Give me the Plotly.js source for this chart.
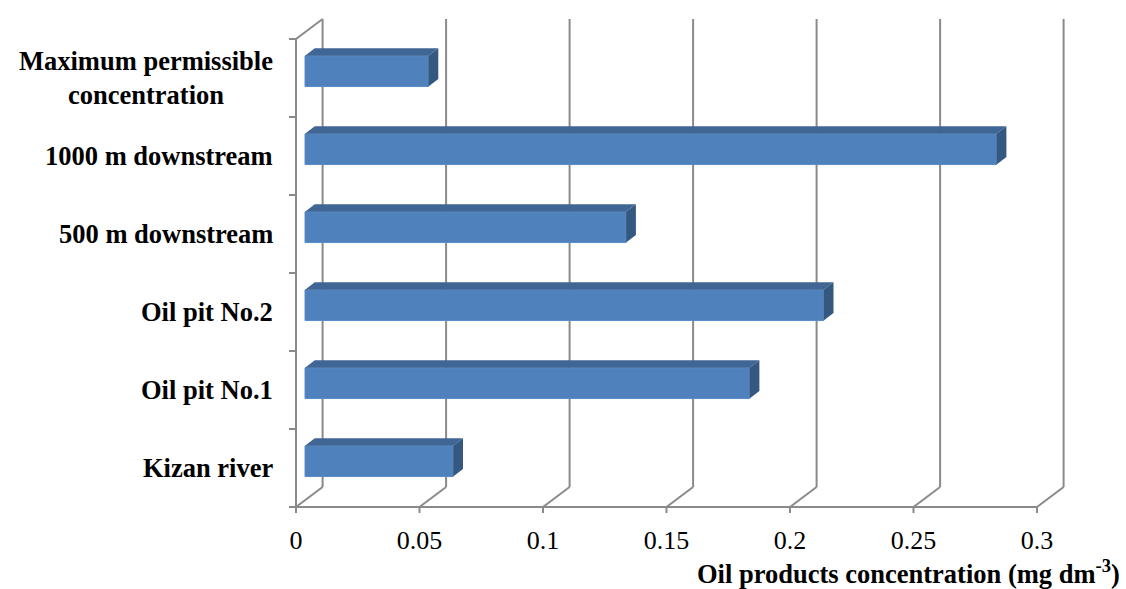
<!DOCTYPE html>
<html>
<head>
<meta charset="utf-8">
<script src="https://cdn.plot.ly/plotly-3.0.1.min.js"></script>
<style>
  html, body { margin: 0; padding: 0; background: #ffffff; }
  #chart { width: 1126px; height: 589px; }
</style>
</head>
<body>
<div id="chart"></div>
<script>
// ---- data ----
const categories = ['Kizan river', 'Oil pit No.1', 'Oil pit No.2', '500 m downstream', '1000 m downstream', 'Maximum permissible<br>concentration'];
const values = [0.06, 0.18, 0.21, 0.13, 0.28, 0.05];
const xTickVals = [0, 0.05, 0.1, 0.15, 0.2, 0.25, 0.3];
const xTickText = ['0', '0.05', '0.1', '0.15', '0.2', '0.25', '0.3'];
const xTitle = '<b>Oil products concentration (mg dm<sup>-3</sup>)</b>';

// ---- geometry (pixels -> data units) ----
const W = 1126, H = 589;
const L = 280, R = 50, T = 10, B = 70;
const plotW = W - L - R, plotH = H - T - B;
const pxPerX = 2470;          // px per unit of concentration
const pxPerY = 78;            // px per category band
const x0px = 296;             // screen x of value 0 (front plane)
const y0px = 507;             // screen y of floor front edge
const xr0 = -(x0px - L) / pxPerX;
const xr1 = xr0 + plotW / pxPerX;
const yr1 = (y0px - T) / pxPerY;
const yr0 = yr1 - plotH / pxPerY;
const xMax = xTickVals[xTickVals.length - 1];
const nCat = categories.length;

const DX = 26.6 / pxPerX, DY = 20 / pxPerY;      // wall depth
const bx1 = 9 / pxPerX, by1 = 6.8 / pxPerY;       // bar front offset into depth
const bdx = 9.8 / pxPerX, bdy = 7.6 / pxPerY;     // bar depth
const barH = 30.7 / pxPerY;

const lineCol = '#8a8a8a';
const lw = 2;
const shapes = [];
function seg(xa, ya, xb, yb) {
  shapes.push({type: 'line', xref: 'x', yref: 'y', x0: xa, y0: ya, x1: xb, y1: yb,
    line: {color: lineCol, width: lw}, layer: 'below'});
}
// back wall verticals + floor diagonals + bottom ticks
xTickVals.forEach(t => {
  seg(t + DX, DY, t + DX, nCat + DY);
  seg(t, 0, t + DX, DY);
  seg(t, 0, t, -6 / pxPerY);
});
// floor front edge
seg(0, 0, xMax, 0);
// left axis
seg(0, 0, 0, nCat);
seg(0, nCat, DX, nCat + DY);
for (let k = 0; k <= nCat; k++) seg(-7 / pxPerX, k, 0, k);

// ---- traces ----
const yCenters = categories.map((c, i) => i + 0.5 + by1);
const traces = [];
traces.push({
  type: 'bar', orientation: 'h',
  x: values, y: yCenters, base: values.map(() => bx1),
  width: barH,
  marker: {color: '#4f81bd', line: {color: '#5b8cc6', width: 1}},
  hoverinfo: 'skip'
});
values.forEach((v, i) => {
  const yb = yCenters[i] - barH / 2, yt = yCenters[i] + barH / 2;
  const xl = bx1, xrt = bx1 + v;
  // top face
  traces.push({type: 'scatter', mode: 'lines', fill: 'toself', fillcolor: '#3f6695',
    line: {width: 0, color: '#3f6695'}, hoverinfo: 'skip',
    x: [xl, xrt, xrt + bdx, xl + bdx, xl], y: [yt, yt, yt + bdy, yt + bdy, yt]});
  // right face
  traces.push({type: 'scatter', mode: 'lines', fill: 'toself', fillcolor: '#34587f',
    line: {width: 0, color: '#34587f'}, hoverinfo: 'skip',
    x: [xrt, xrt, xrt + bdx, xrt + bdx, xrt], y: [yb, yt, yt + bdy, yb + bdy, yb]});
});

// ---- annotations ----
const annotations = categories.map((c, i) => ({
  xref: 'paper', yref: 'y', x: (275 - L) / plotW, y: i + 0.5,
  xanchor: 'right', yanchor: 'middle', align: 'center', showarrow: false,
  text: '<b>' + c + '</b>',
  font: {family: 'Liberation Serif', size: 26.5, color: '#000'}
}));
annotations.push({
  xref: 'paper', yref: 'paper', x: (1122 - L) / plotW, y: -(572 - (H - B)) / plotH,
  xanchor: 'right', yanchor: 'middle', showarrow: false, text: xTitle,
  font: {family: 'Liberation Serif', size: 26.5, color: '#000'}
});

const layout = {
  width: W, height: H,
  margin: {l: L, r: R, t: T, b: B, pad: 0},
  paper_bgcolor: '#ffffff', plot_bgcolor: '#ffffff',
  showlegend: false,
  xaxis: {range: [xr0, xr1], tickvals: xTickVals, ticktext: xTickText,
    showgrid: false, zeroline: false, showline: false, ticks: '',
    tickfont: {family: 'Liberation Serif', size: 26, color: '#000'},
    ticklabelstandoff: 3, fixedrange: true},
  yaxis: {range: [yr0, yr1], showgrid: false, zeroline: false, showline: false,
    showticklabels: false, ticks: '', fixedrange: true},
  shapes: shapes,
  annotations: annotations,
  bargap: 0
};

Plotly.newPlot('chart', traces, layout, {staticPlot: true, displayModeBar: false});
</script>
</body>
</html>
